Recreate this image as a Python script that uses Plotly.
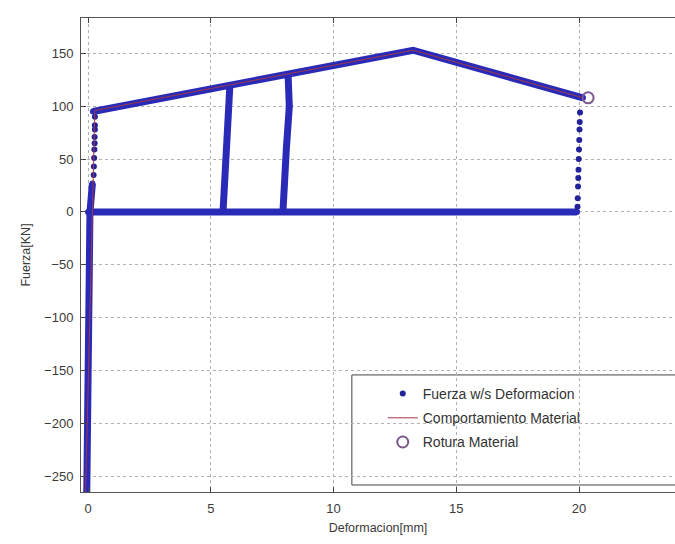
import plotly.graph_objects as go

# Dense measured path (force vs displacement), segments separated by None
dense_x = [-0.05, 0.08, 0.18, None,
           0.2, 5.78, 8.15, 13.24, 20.16, None,
           5.78, 5.62, 5.5, None,
           8.15, 8.2, 8.08, 8.0, 7.94, None,
           0.0, 19.92]
dense_y = [-265, 0, 27, None,
           95, 120, 130, 153, 108, None,
           120, 60, 0, None,
           130, 100, 60, 25, 0, None,
           0, 0]

# Sparse readings (fast loading ramps)
sparse_x = [0.28, 0.28, 0.28, 0.27, 0.27, 0.26, 0.25, 0.24, 0.23,
            20.04, 20.03, 20.02, 20.01, 20.0, 19.99, 19.98, 19.97, 19.96, 19.95, 19.94]
sparse_y = [90, 82, 78, 71, 65, 59, 51, 43, 35,
            94, 85, 78, 68, 59, 50, 40, 32, 24, 13, 5]

# Idealised material behaviour
model_x = [-0.1, 0.28, 13.24, 20.16]
model_y = [-265, 96, 153, 108]

# Failure point
rot_x = [20.37]
rot_y = [108]

x_ticks = [0, 5, 10, 15, 20]
y_ticks = [-250, -200, -150, -100, -50, 0, 50, 100, 150]

blue = "#2a2ab8"
fig = go.Figure()

fig.add_trace(go.Scatter(
    x=dense_x, y=dense_y, mode="lines+markers",
    line=dict(color=blue, width=7),
    marker=dict(color=blue, size=6),
    legendgroup="f", showlegend=False, hoverinfo="skip"))

fig.add_trace(go.Scatter(
    x=sparse_x, y=sparse_y, mode="markers",
    marker=dict(color="#22229a", size=6),
    name="Fuerza w/s Deformacion", legendgroup="f"))

fig.add_trace(go.Scatter(
    x=model_x, y=model_y, mode="lines",
    line=dict(color="#a03848", width=1),
    name="Comportamiento Material"))

fig.add_trace(go.Scatter(
    x=rot_x, y=rot_y, mode="markers",
    marker=dict(symbol="circle-open", size=11, color="#7a5a8c", line=dict(width=2)),
    name="Rotura Material"))

tick_font = dict(family="Liberation Sans, Arial, sans-serif", size=13, color="#3a3a3a")
title_font = dict(family="Liberation Sans, Arial, sans-serif", size=12.5, color="#3a3a3a")

fig.update_layout(
    width=675, height=544,
    margin=dict(l=81, r=0, t=18, b=52),
    paper_bgcolor="white", plot_bgcolor="white",
    font=tick_font,
    showlegend=True,
    legend=dict(
        x=0.508, y=0.2405, xanchor="left", yanchor="top",
        bgcolor="rgba(0,0,0,0)", borderwidth=0,
        font=dict(family="Liberation Sans, Arial, sans-serif", size=14, color="#333333"),
        tracegroupgap=3),
    shapes=[dict(type="rect", xref="paper", yref="paper",
                 x0=0.456, x1=1.02, y0=0.0148, y1=0.247,
                 line=dict(color="#444444", width=1), fillcolor="white", layer="below")],
)

fig.update_xaxes(
    range=[-0.285, 23.91], tickvals=x_ticks,
    showgrid=True, gridcolor="#b0b0b0", griddash="dot", gridwidth=1,
    zeroline=False, showline=True, linecolor="#555555", linewidth=1,
    mirror="allticks", ticks="inside", ticklen=5, tickcolor="#444444",
    tickfont=tick_font, ticklabelstandoff=4,
    title=dict(text="Deformacion[mm]", font=title_font, standoff=8))

fig.update_yaxes(
    range=[-265, 183.5], tickvals=y_ticks,
    showgrid=True, gridcolor="#b0b0b0", griddash="dot", gridwidth=1,
    zeroline=False, showline=True, linecolor="#555555", linewidth=1,
    mirror=False, ticks="inside", ticklen=5, tickcolor="#444444",
    tickfont=tick_font, ticklabelstandoff=4,
    title=dict(text="Fuerza[KN]", font=title_font, standoff=10))

fig.write_html("out.html")
